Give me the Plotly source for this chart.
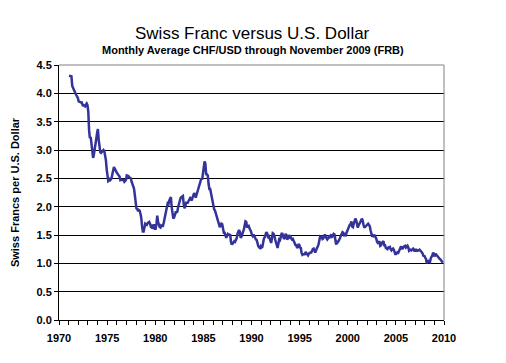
import plotly.graph_objects as go

years = list(range(1971, 2010))
chf_1971 = [4.31, 4.31, 4.31, 4.30, 4.13, 4.10, 4.09, 4.05, 4.00, 3.97, 3.95, 3.92]
chf_1972 = [3.86, 3.85, 3.85, 3.84, 3.84, 3.79, 3.79, 3.78, 3.77, 3.80, 3.82, 3.79]
chf_1973 = [3.68, 3.35, 3.21, 3.23, 3.13, 3.02, 2.86, 2.92, 3.00, 3.05, 3.20, 3.30]
chf_1974 = [3.37, 3.18, 3.06, 2.96, 2.95, 2.97, 2.99, 3.00, 2.98, 2.90, 2.82, 2.65]
chf_1975 = [2.52, 2.45, 2.46, 2.51, 2.48, 2.50, 2.57, 2.65, 2.70, 2.67, 2.63, 2.62]
chf_1976 = [2.59, 2.57, 2.55, 2.53, 2.47, 2.48, 2.47, 2.47, 2.47, 2.44, 2.45, 2.47]
chf_1977 = [2.55, 2.55, 2.54, 2.52, 2.51, 2.50, 2.44, 2.40, 2.37, 2.32, 2.21, 2.07]
chf_1978 = [1.97, 1.96, 1.92, 1.94, 1.93, 1.88, 1.81, 1.66, 1.56, 1.56, 1.68, 1.70]
chf_1979 = [1.69, 1.68, 1.71, 1.73, 1.73, 1.70, 1.65, 1.66, 1.61, 1.64, 1.69, 1.61]
chf_1980 = [1.61, 1.70, 1.84, 1.73, 1.66, 1.64, 1.63, 1.67, 1.66, 1.66, 1.71, 1.80]
chf_1981 = [1.89, 1.98, 1.99, 2.06, 2.05, 2.11, 2.14, 2.17, 1.99, 1.89, 1.79, 1.81]
chf_1982 = [1.85, 1.90, 1.90, 1.91, 1.99, 2.06, 2.11, 2.15, 2.17, 2.18, 2.19, 2.04]
chf_1983 = [1.97, 2.01, 2.07, 2.07, 2.07, 2.10, 2.12, 2.15, 2.13, 2.11, 2.16, 2.19]
chf_1984 = [2.24, 2.21, 2.16, 2.21, 2.26, 2.29, 2.38, 2.41, 2.48, 2.50, 2.48, 2.58]
chf_1985 = [2.70, 2.80, 2.76, 2.56, 2.57, 2.55, 2.40, 2.31, 2.31, 2.23, 2.18, 2.13]
chf_1986 = [2.04, 1.95, 1.93, 1.88, 1.82, 1.81, 1.73, 1.67, 1.64, 1.66, 1.70, 1.69]
chf_1987 = [1.60, 1.54, 1.54, 1.50, 1.45, 1.48, 1.52, 1.51, 1.51, 1.50, 1.37, 1.33]
chf_1988 = [1.35, 1.38, 1.39, 1.38, 1.41, 1.44, 1.52, 1.57, 1.59, 1.55, 1.45, 1.47]
chf_1989 = [1.54, 1.56, 1.60, 1.65, 1.74, 1.73, 1.63, 1.65, 1.66, 1.62, 1.60, 1.56]
chf_1990 = [1.50, 1.48, 1.51, 1.48, 1.42, 1.42, 1.41, 1.31, 1.30, 1.28, 1.27, 1.30]
chf_1991 = [1.28, 1.29, 1.38, 1.44, 1.46, 1.52, 1.55, 1.53, 1.47, 1.48, 1.42, 1.40]
chf_1992 = [1.36, 1.46, 1.53, 1.52, 1.49, 1.42, 1.35, 1.30, 1.27, 1.34, 1.42, 1.41]
chf_1993 = [1.50, 1.52, 1.52, 1.45, 1.43, 1.45, 1.52, 1.50, 1.42, 1.44, 1.50, 1.46]
chf_1994 = [1.47, 1.44, 1.42, 1.43, 1.41, 1.37, 1.33, 1.32, 1.29, 1.27, 1.33, 1.33]
chf_1995 = [1.28, 1.27, 1.18, 1.15, 1.16, 1.16, 1.16, 1.20, 1.18, 1.14, 1.14, 1.17]
chf_1996 = [1.19, 1.19, 1.19, 1.23, 1.25, 1.26, 1.23, 1.19, 1.23, 1.26, 1.28, 1.33]
chf_1997 = [1.40, 1.47, 1.46, 1.47, 1.43, 1.44, 1.47, 1.51, 1.47, 1.44, 1.42, 1.44]
chf_1998 = [1.47, 1.46, 1.50, 1.51, 1.47, 1.48, 1.52, 1.51, 1.42, 1.33, 1.38, 1.37]
chf_1999 = [1.39, 1.41, 1.45, 1.49, 1.51, 1.55, 1.54, 1.50, 1.51, 1.48, 1.54, 1.58]
chf_2000 = [1.61, 1.65, 1.68, 1.69, 1.74, 1.65, 1.64, 1.70, 1.75, 1.79, 1.76, 1.66]
chf_2001 = [1.63, 1.67, 1.69, 1.71, 1.75, 1.79, 1.76, 1.69, 1.64, 1.64, 1.66, 1.66]
chf_2002 = [1.68, 1.70, 1.68, 1.65, 1.58, 1.53, 1.47, 1.49, 1.48, 1.49, 1.47, 1.44]
chf_2003 = [1.38, 1.36, 1.37, 1.39, 1.31, 1.32, 1.36, 1.39, 1.39, 1.32, 1.32, 1.27]
chf_2004 = [1.25, 1.25, 1.28, 1.29, 1.29, 1.25, 1.23, 1.25, 1.26, 1.24, 1.18, 1.15]
chf_2005 = [1.18, 1.19, 1.17, 1.20, 1.22, 1.26, 1.30, 1.26, 1.26, 1.29, 1.31, 1.31]
chf_2006 = [1.28, 1.31, 1.31, 1.28, 1.22, 1.23, 1.24, 1.23, 1.25, 1.26, 1.24, 1.21]
chf_2007 = [1.24, 1.24, 1.22, 1.22, 1.23, 1.24, 1.21, 1.21, 1.19, 1.17, 1.12, 1.14]
chf_2008 = [1.10, 1.08, 1.00, 1.02, 1.04, 1.03, 1.02, 1.09, 1.11, 1.14, 1.19, 1.15]
chf_2009 = [1.12, 1.17, 1.15, 1.14, 1.10, 1.08, 1.08, 1.07, 1.04, 1.02, 1.01]

y_ticks = [0.0, 0.5, 1.0, 1.5, 2.0, 2.5, 3.0, 3.5, 4.0, 4.5]
x_ticks = [1970, 1975, 1980, 1985, 1990, 1995, 2000, 2005, 2010]

series = [chf_1971, chf_1972, chf_1973, chf_1974, chf_1975, chf_1976, chf_1977,
          chf_1978, chf_1979, chf_1980, chf_1981, chf_1982, chf_1983, chf_1984,
          chf_1985, chf_1986, chf_1987, chf_1988, chf_1989, chf_1990, chf_1991,
          chf_1992, chf_1993, chf_1994, chf_1995, chf_1996, chf_1997, chf_1998,
          chf_1999, chf_2000, chf_2001, chf_2002, chf_2003, chf_2004, chf_2005,
          chf_2006, chf_2007, chf_2008, chf_2009]

xs, ys = [], []
for yr, vals in zip(years, series):
    for m, v in enumerate(vals):
        xs.append(yr + (m + 0.5) / 12.0)
        ys.append(v)

font = "Liberation Sans, Arial, sans-serif"

W, H = 506, 363
ML, MR, MT, MB = 59, 62, 65, 43
W_plot = W - ML - MR
H_plot = H - MT - MB

def px_x(x):
    return (x - ML) / W_plot

def px_y(y):
    return (H - MB - y) / H_plot

fig = go.Figure()
fig.add_trace(go.Scatter(x=xs, y=ys, mode="lines",
                         line=dict(color="#333399", width=2.5),
                         hoverinfo="skip", showlegend=False))

fig.update_layout(
    width=W, height=H,
    margin=dict(l=ML, r=MR, t=MT, b=MB),
    paper_bgcolor="white", plot_bgcolor="white",
    font=dict(family=font, color="black"),
    annotations=[
        dict(text="Swiss Franc versus U.S. Dollar", xref="paper", yref="paper",
             x=px_x(253), y=px_y(33), xanchor="center", yanchor="middle",
             showarrow=False, font=dict(size=17, family=font, color="black")),
        dict(text="<b>Monthly Average CHF/USD through November 2009 (FRB)</b>",
             xref="paper", yref="paper", x=px_x(253), y=px_y(50),
             xanchor="center", yanchor="middle",
             showarrow=False, font=dict(size=11, family=font, color="black")),
    ],
    xaxis=dict(range=[1970, 2010], tickvals=x_ticks,
               ticktext=["<b>%d</b>" % v for v in x_ticks],
               showgrid=False, zeroline=False, showline=True, linecolor="black", linewidth=1,
               ticks="outside", ticklen=4, tickcolor="black", ticklabelstandoff=4,
               minor=dict(dtick=1, ticks="outside", ticklen=4, tickcolor="black", showgrid=False),
               tickfont=dict(size=11, family=font, color="black"), fixedrange=True),
    yaxis=dict(range=[0, 4.5], tickvals=y_ticks, ticktext=["<b>%.1f</b>" % v for v in y_ticks],
               showgrid=True, gridcolor="black", gridwidth=1, zeroline=False,
               showline=True, linecolor="black", linewidth=1,
               ticks="outside", ticklen=4, tickcolor="black",
               title=dict(text="<b>Swiss Francs per U.S. Dollar</b>", standoff=14,
                          font=dict(size=11, family=font, color="black")),
               tickfont=dict(size=11, family=font, color="black"), fixedrange=True),
)

# gray border on top and right
fig.add_shape(type="line", xref="paper", yref="paper", x0=0, x1=1, y0=1, y1=1,
              line=dict(color="#808080", width=1))
fig.add_shape(type="line", xref="paper", yref="paper", x0=1, x1=1, y0=0, y1=1,
              line=dict(color="#808080", width=1))

fig.write_html("out.html", config={"displayModeBar": False},
               post_script="document.body.style.margin='0px';")
